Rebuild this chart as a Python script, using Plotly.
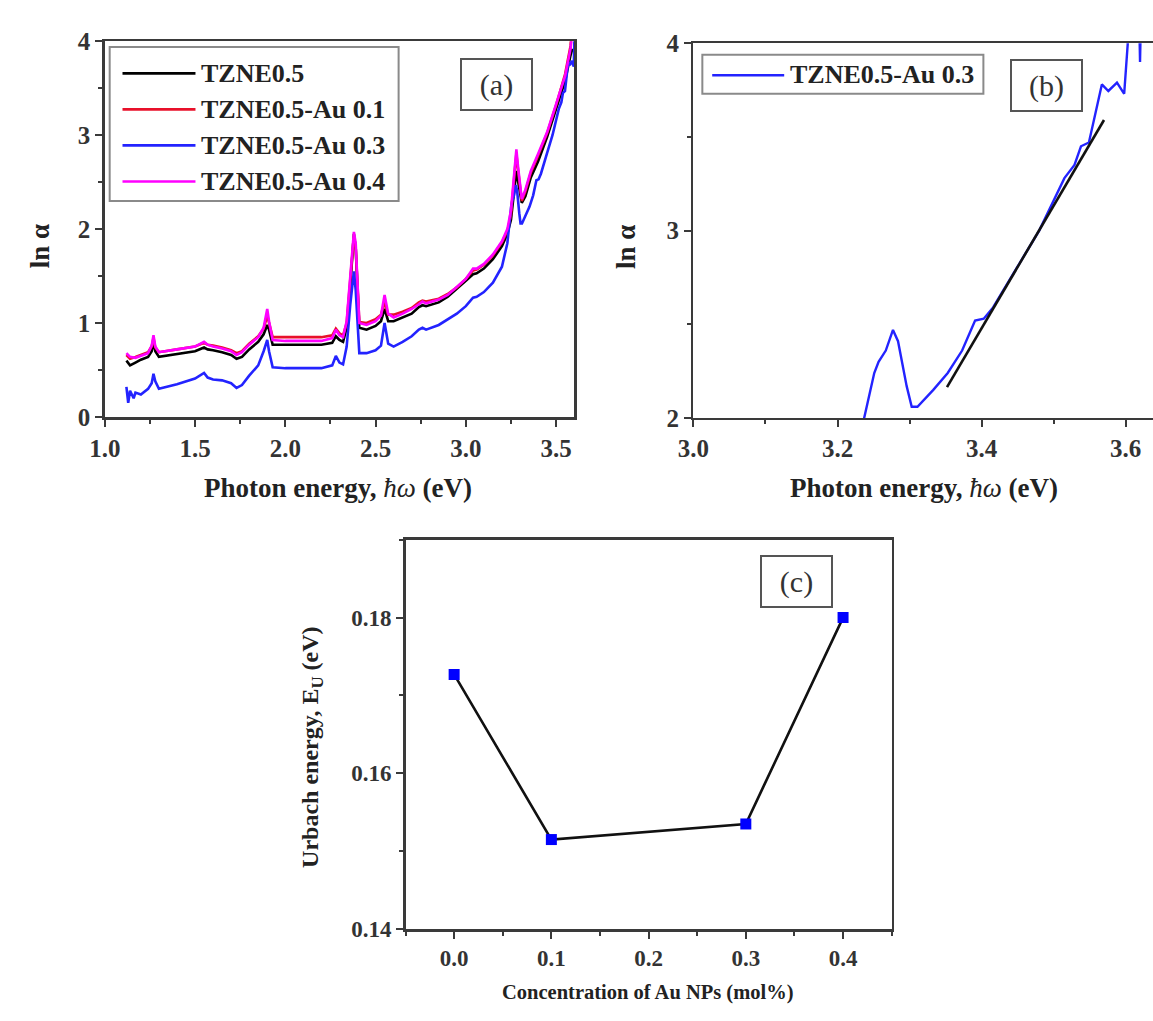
import plotly.graph_objects as go

W, H = 1153, 1021


def fx(px):
    return px / W


def fy(py):
    return 1 - py / H


# ---------------- data ----------------
series_names = ["TZNE0.5", "TZNE0.5-Au 0.1", "TZNE0.5-Au 0.3", "TZNE0.5-Au 0.4"]
series_colors = ["#000000", "#e8102a", "#2323ff", "#ff00ff"]

energy = [1.12, 1.14, 1.17, 1.20, 1.24, 1.26, 1.27, 1.28, 1.30, 1.40,
          1.50, 1.55, 1.57, 1.60, 1.65, 1.70, 1.73, 1.76, 1.80, 1.85,
          1.88, 1.90, 1.91, 1.93, 2.00, 2.10, 2.20, 2.26, 2.28, 2.30,
          2.32, 2.34, 2.36, 2.38, 2.39, 2.41, 2.45, 2.50, 2.53, 2.55,
          2.57, 2.60, 2.65, 2.70, 2.74, 2.76, 2.78, 2.85, 2.90, 2.95,
          3.00, 3.04, 3.06, 3.10, 3.15, 3.20, 3.23, 3.25, 3.27, 3.28,
          3.29, 3.31, 3.33, 3.36, 3.40, 3.45, 3.50, 3.55, 3.58, 3.59]

ln_alpha_tzne = [0.60, 0.55, 0.58, 0.61, 0.64, 0.70, 0.80, 0.70, 0.64, 0.67,
                 0.70, 0.74, 0.72, 0.71, 0.69, 0.66, 0.62, 0.64, 0.72, 0.80,
                 0.88, 0.98, 0.93, 0.77, 0.77, 0.77, 0.77, 0.79, 0.86, 0.82,
                 0.80, 0.95, 1.40, 1.95, 1.80, 0.95, 0.93, 0.97, 1.02, 1.15,
                 1.02, 1.02, 1.06, 1.10, 1.17, 1.19, 1.18, 1.22, 1.28, 1.36,
                 1.45, 1.52, 1.53, 1.58, 1.68, 1.82, 1.95, 2.10, 2.45, 2.62,
                 2.50, 2.28, 2.35, 2.55, 2.72, 2.98, 3.28, 3.58, 3.85, 3.92]

ln_alpha_au01 = [0.66, 0.62, 0.64, 0.66, 0.69, 0.75, 0.84, 0.74, 0.69, 0.72,
                 0.75, 0.79, 0.77, 0.76, 0.74, 0.71, 0.68, 0.70, 0.78, 0.86,
                 0.94, 1.08, 1.00, 0.85, 0.85, 0.85, 0.85, 0.87, 0.94, 0.89,
                 0.87, 1.00, 1.45, 1.93, 1.80, 1.01, 1.00, 1.04, 1.09, 1.22,
                 1.09, 1.09, 1.12, 1.16, 1.22, 1.24, 1.23, 1.26, 1.31, 1.38,
                 1.47, 1.56, 1.57, 1.62, 1.72, 1.86, 1.98, 2.15, 2.60, 2.80,
                 2.62, 2.30, 2.40, 2.60, 2.78, 3.02, 3.32, 3.65, 3.95, 4.20]

ln_alpha_au04 = [0.68, 0.64, 0.63, 0.65, 0.68, 0.76, 0.87, 0.75, 0.69, 0.72,
                 0.75, 0.80, 0.77, 0.75, 0.73, 0.70, 0.66, 0.69, 0.77, 0.85,
                 0.95, 1.15, 1.02, 0.82, 0.81, 0.81, 0.81, 0.84, 0.93, 0.87,
                 0.85, 1.02, 1.50, 1.97, 1.85, 1.00, 0.98, 1.02, 1.08, 1.30,
                 1.10, 1.06, 1.10, 1.15, 1.20, 1.23, 1.21, 1.25, 1.30, 1.38,
                 1.47, 1.58, 1.58, 1.63, 1.73, 1.87, 2.00, 2.20, 2.70, 2.85,
                 2.65, 2.32, 2.42, 2.62, 2.80, 3.03, 3.33, 3.63, 3.92, 4.10]

energy_au03 = [1.12, 1.13, 1.14, 1.16, 1.17, 1.20, 1.24, 1.26, 1.27, 1.28,
               1.30, 1.40, 1.50, 1.55, 1.57, 1.60, 1.65, 1.70, 1.73, 1.76,
               1.80, 1.85, 1.88, 1.90, 1.91, 1.93, 2.00, 2.10, 2.20, 2.26,
               2.28, 2.30, 2.32, 2.34, 2.36, 2.38, 2.39, 2.41, 2.45, 2.50,
               2.53, 2.55, 2.57, 2.60, 2.65, 2.70, 2.74, 2.76, 2.78, 2.85,
               2.90, 2.95, 3.00, 3.04, 3.06, 3.10, 3.15, 3.20, 3.23, 3.237,
               3.251, 3.257, 3.267, 3.277, 3.284, 3.296, 3.303, 3.311, 3.333, 3.353,
               3.373, 3.391, 3.403, 3.416, 3.45, 3.48, 3.515, 3.529, 3.538, 3.549,
               3.556, 3.567, 3.576, 3.588, 3.598, 3.603, 3.605, 3.618, 3.620, 3.622]

ln_alpha_au03 = [0.32, 0.15, 0.28, 0.20, 0.26, 0.24, 0.30, 0.36, 0.46, 0.38,
                 0.30, 0.35, 0.41, 0.47, 0.42, 0.40, 0.39, 0.36, 0.31, 0.34,
                 0.44, 0.55, 0.70, 0.82, 0.70, 0.53, 0.52, 0.52, 0.52, 0.55,
                 0.65, 0.58, 0.56, 0.75, 1.20, 1.55, 1.35, 0.68, 0.68, 0.71,
                 0.76, 1.00, 0.78, 0.75, 0.80, 0.86, 0.93, 0.95, 0.93, 0.98,
                 1.04, 1.10, 1.18, 1.27, 1.28, 1.33, 1.43, 1.60, 1.85, 2.00,
                 2.24, 2.30, 2.36, 2.47, 2.41, 2.17, 2.06, 2.06, 2.15, 2.24,
                 2.36, 2.52, 2.53, 2.59, 2.81, 3.00, 3.28, 3.35, 3.45, 3.47,
                 3.59, 3.78, 3.745, 3.79, 3.73, 4.00, 4.30, 4.30, 3.90, 4.30]

# linear Urbach fit drawn in panel (b)
fit_energy = [3.352, 3.570]
fit_ln_alpha = [2.165, 3.59]

# panel (c)
au_conc = [0.0, 0.1, 0.3, 0.4]
urbach_energy = [0.1727, 0.1515, 0.1535, 0.1800]

# ---------------- figure ----------------
SERIF = "Liberation Serif"
AXC = "#3a3a3a"
TXT = "#222222"

fig = go.Figure()

panel_a_series = [
    (energy, ln_alpha_tzne, 0),
    (energy, ln_alpha_au01, 1),
    (energy_au03, ln_alpha_au03, 2),
    (energy, ln_alpha_au04, 3),
]
for xs, ys, i in panel_a_series:
    fig.add_trace(go.Scatter(x=xs, y=ys, mode="lines", name=series_names[i],
                             line=dict(color=series_colors[i], width=2.6),
                             xaxis="x", yaxis="y", showlegend=False))

fig.add_trace(go.Scatter(x=energy_au03, y=ln_alpha_au03, mode="lines",
                         name=series_names[2],
                         line=dict(color=series_colors[2], width=2.4),
                         xaxis="x2", yaxis="y2", showlegend=False))
fig.add_trace(go.Scatter(x=fit_energy, y=fit_ln_alpha, mode="lines",
                         name="Linear fit", line=dict(color="#111111", width=2.6),
                         xaxis="x2", yaxis="y2", showlegend=False))

fig.add_trace(go.Scatter(x=au_conc, y=urbach_energy, mode="lines+markers",
                         name="Urbach energy",
                         line=dict(color="#111111", width=2.6),
                         marker=dict(symbol="square", size=11, color="#0000ff",
                                     line=dict(width=0)),
                         xaxis="x3", yaxis="y3", showlegend=False))


def axis(domain, rng, tick0, dtick, mdtick, fmt, anchor, mirror=True, fsize=25):
    return dict(domain=domain, range=rng, tick0=tick0, dtick=dtick,
                tickformat=fmt, anchor=anchor, showline=True, linecolor=AXC,
                linewidth=2.5, mirror=mirror, ticks="outside", ticklen=7,
                tickwidth=2, tickcolor=AXC, showgrid=False, zeroline=False,
                tickfont=dict(family=SERIF, size=fsize, color="#333333",
                              weight="bold"),
                minor=dict(ticks="outside", ticklen=4, tickwidth=2,
                           tickcolor=AXC, dtick=mdtick, tick0=tick0,
                           showgrid=False))


fig.update_layout(
    width=W, height=H, autosize=False,
    margin=dict(l=0, r=0, t=0, b=0, pad=0),
    paper_bgcolor="white", plot_bgcolor="white",
    showlegend=False,
    xaxis=axis([fx(90), fx(566)], [1.0, 3.6], 1.0, 0.5, 0.25, ".1f", "y"),
    yaxis=axis([fy(415), fy(29)], [0, 4], 0, 1, 0.5, "d", "x"),
    xaxis2=axis([fx(687), 1.0], [3.0, 3.638], 3.0, 0.2, 0.1, ".1f", "y2"),
    yaxis2=axis([fy(416), fy(31)], [2, 4], 2, 1, 0.5, "d", "x2", mirror=False),
    xaxis3=axis([fx(395), fx(888)], [-0.05, 0.45], 0.0, 0.1, 0.05, ".1f", "y3", fsize=23),
    yaxis3=axis([fy(941), fy(541)], [0.14, 0.19], 0.14, 0.02, 0.01, ".2f", "x3", fsize=23),
)

annotations = []
shapes = []


def label(text, px, py, size, angle=0, xanchor="center", color=TXT):
    annotations.append(dict(text=text, x=fx(px), y=fy(py), xref="paper",
                            yref="paper", showarrow=False, textangle=angle,
                            xanchor=xanchor, yanchor="middle",
                            font=dict(family=SERIF, size=size, color=color)))


# axis titles
label("<b>ln α</b>", 24, 240, 27, angle=-90)
label("<b>Photon energy, </b><i>ħω</i><b> (eV)</b>", 327, 488, 27)
label("<b>ln α</b>", 618, 240, 27, angle=-90)
label("<b>Photon energy, </b><i>ħω</i><b> (eV)</b>", 921, 488, 27)
label("<b>Urbach energy, E<sub>U</sub> (eV)</b>", 300, 754, 24, angle=-90)
label("<b>Concentration of Au NPs (mol%)</b>", 641, 1006, 20.5)

# panel labels in boxes
for txt, cx, cy in [("(a)", 487.5, 73.5), ("(b)", 1045, 74), ("(c)", 791.5, 584)]:
    annotations.append(dict(text=txt, x=fx(cx), y=fy(cy), xref="paper",
                            yref="paper", showarrow=False, width=69, height=49,
                            borderpad=0, borderwidth=2, bordercolor="#555555",
                            bgcolor="white", xanchor="center", yanchor="middle",
                            font=dict(family=SERIF, size=30, color="#333333")))

# legend of panel (a)
shapes.append(dict(type="rect", xref="paper", yref="paper", x0=fx(95), x1=fx(388),
                   y0=fy(193), y1=fy(35), line=dict(color="#8a8a8a", width=2),
                   fillcolor="white", layer="above"))
for i, ry in enumerate([62, 99, 136, 173]):
    shapes.append(dict(type="line", xref="paper", yref="paper", x0=fx(108), x1=fx(182),
                       y0=fy(ry), y1=fy(ry), layer="above",
                       line=dict(color=series_colors[i], width=2.6)))
    label("<b>" + series_names[i] + "</b>", 186, ry, 26, xanchor="left")

# legend of panel (b)
shapes.append(dict(type="rect", xref="paper", yref="paper", x0=fx(696), x1=fx(981),
                   y0=fy(83), y1=fy(43), line=dict(color="#8a8a8a", width=2),
                   fillcolor="white", layer="above"))
shapes.append(dict(type="line", xref="paper", yref="paper", x0=fx(706), x1=fx(779),
                   y0=fy(64), y1=fy(64), layer="above",
                   line=dict(color=series_colors[2], width=2.6)))
label("<b>" + series_names[2] + "</b>", 783, 63, 26, xanchor="left")

fig.update_layout(annotations=annotations, shapes=shapes)

fig.write_html(
    "out.html",
    config={"displayModeBar": False, "staticPlot": True},
    post_script="document.body.style.margin='0';document.body.style.padding='0';"
                "document.body.style.overflow='hidden';"
                "document.documentElement.style.overflow='hidden';",
)
